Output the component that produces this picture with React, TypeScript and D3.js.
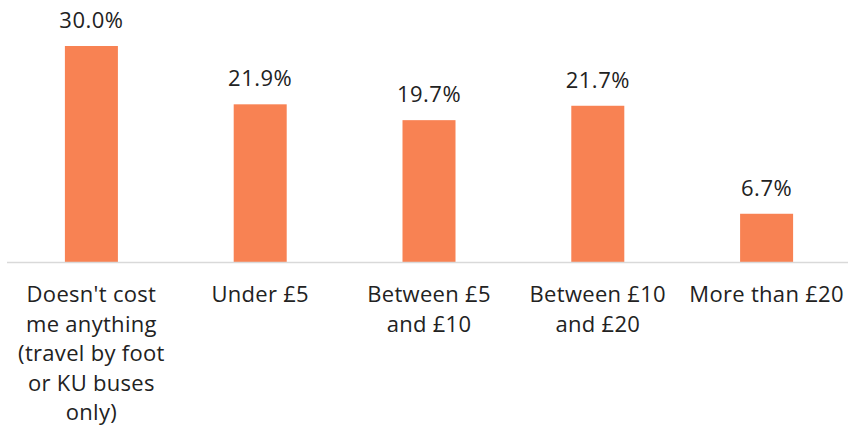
import React from "react";
import * as d3 from "d3";

const categories: string[][] = [
  ["Doesn't cost", "me anything", "(travel by foot", "or KU buses", "only)"],
  ["Under £5"],
  ["Between £5", "and £10"],
  ["Between £10", "and £20"],
  ["More than £20"],
];
const values: number[] = [30.0, 21.9, 19.7, 21.7, 6.7];

const W = 848;
const H = 428;
const baseline = 262;
const FONT = "'Open Sans', sans-serif";

export default function App() {
  const x = d3
    .scaleBand<number>()
    .domain(values.map((_, i) => i))
    .range([7, 851])
    .paddingInner(0.686)
    .paddingOuter(0.343);
  const y = d3.scaleLinear().domain([0, 30]).range([baseline, 46]);

  return (
    <svg
      width={W}
      height={H}
      style={{ position: "absolute", left: 0, top: 0, background: "#fff" }}
      fontFamily={FONT}
    >
      {values.map((v, i) => (
        <g key={i}>
          <rect
            x={x(i)}
            y={y(v)}
            width={x.bandwidth()}
            height={baseline - y(v)}
            fill="#F88253"
          />
          <text
            x={(x(i) as number) + x.bandwidth() / 2}
            y={y(v) - 18}
            textAnchor="middle"
            fontSize={22}
            letterSpacing={0.5}
            fill="#222"
          >
            {v.toFixed(1) + "%"}
          </text>
        </g>
      ))}
      <line x1={7} x2={848} y1={baseline + 0.5} y2={baseline + 0.5} stroke="#d9d9d9" strokeWidth={1.5} />
      {categories.map((lines, i) => (
        <text
          key={i}
          x={(x(i) as number) + x.bandwidth() / 2}
          y={baseline + 40}
          textAnchor="middle"
          fontSize={22}
          letterSpacing={0.3}
          fill="#222"
        >
          {lines.map((l, j) => (
            <tspan key={j} x={(x(i) as number) + x.bandwidth() / 2} dy={j === 0 ? 0 : 29.6}>
              {l}
            </tspan>
          ))}
        </text>
      ))}
    </svg>
  );
}
